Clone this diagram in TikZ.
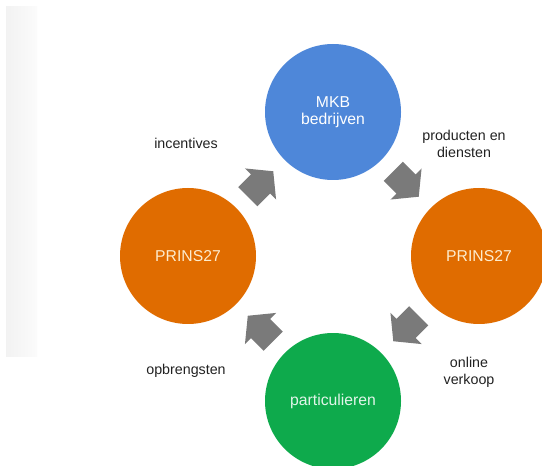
\documentclass[tikz,border=0pt]{standalone}
\usepackage{fontspec}
\setmainfont{Liberation Sans}
\usetikzlibrary{calc}
\definecolor{mkbblue}{RGB}{78,135,217}
\definecolor{prinsorange}{RGB}{224,108,0}
\definecolor{partgreen}{RGB}{14,170,76}
\definecolor{arrowgray}{RGB}{122,122,122}
\definecolor{labelgray}{RGB}{34,34,34}
\definecolor{creamtext}{RGB}{253,236,206}

\begin{document}
\begin{tikzpicture}[x=0.75pt,y=-0.75pt,
  circ/.style={circle,minimum size=102pt,inner sep=0pt,align=center,
    font=\fontsize{11.8}{12.8}\selectfont},
  lbl/.style={align=center,text=labelgray,font=\fontsize{10.7}{12.8}\selectfont},
  flow/.pic={\fill[arrowgray] (-18,-13.5) -- (0,-13.5) -- (0,-22) -- (18,0)
    -- (0,22) -- (0,13.5) -- (-18,13.5) -- cycle;}]
\clip (0,0) rectangle (542,466);
\fill[white] (0,0) rectangle (542,466);
% schaduw links
\shade[left color=black!5,right color=black!1.5] (6,7) rectangle (37,356);
% de vier partijen
\node[circ,fill=mkbblue,text=white] (mkb) at (333,112) {MKB\\bedrijven};
\node[circ,fill=prinsorange,text=creamtext] (prinsL) at (188,256) {PRINS27};
\node[circ,fill=prinsorange,text=creamtext] (prinsR) at (479,256) {PRINS27};
\node[circ,fill=partgreen,text=white!88!partgreen] (part) at (333,401) {particulieren};
% pijlen
\pic[rotate=45] at ($(prinsL)!0.5!(mkb)$) {flow};
\pic[rotate=-45] at ($(mkb)!0.5!(prinsR)$) {flow};
\pic[rotate=-135] at ($(prinsR)!0.5!(part)$) {flow};
\pic[rotate=135] at ($(part)!0.5!(prinsL)$) {flow};
% labels
\path
(186,143) node[lbl] (incent) {incentives}
(464,143.5) node[lbl] (prod) {producten en\\diensten}
(186,371) node[lbl] (opbr) {opbrengsten}
(469,372) node[lbl] (online) {online\\verkoop}
;
\end{tikzpicture}
\end{document}
